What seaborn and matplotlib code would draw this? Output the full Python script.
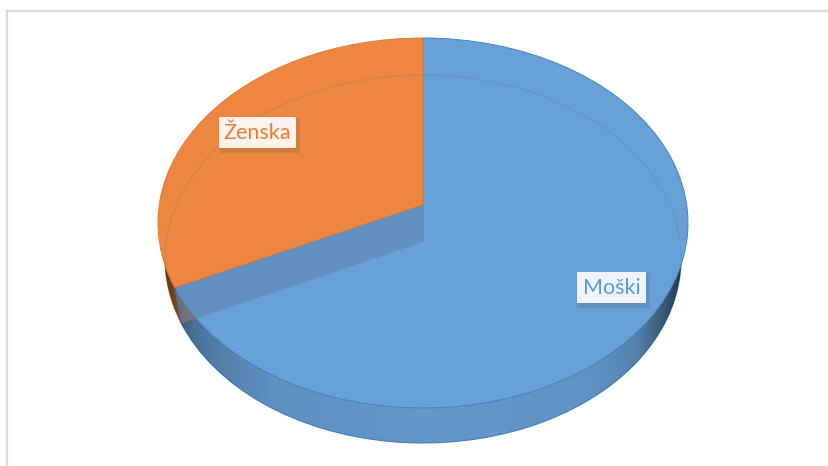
import numpy as np
import matplotlib
matplotlib.use("Agg")
import matplotlib.pyplot as plt
from matplotlib.patches import Arc, Polygon, Rectangle
import seaborn as sns

sns.set_theme(style="white")
plt.rcParams["font.family"] = ["Lato", "DejaVu Sans"]

# Shares of respondents by gender
categories = ["Moški", "Ženska"]
shares = [69.3, 30.7]

face_colors = sns.color_palette(["#68A1D8", "#EC8641"])
edge_colors = sns.color_palette(["#4483C2", "#DE7C3A"])
rim_colors = sns.color_palette(["#659BCE", "#D97B38"])
label_text_colors = sns.color_palette(["#5B9BD5", "#ED7D31"])
label_fill_colors = sns.color_palette(["#EFF4FB", "#FDF2EC"])

# Pixel layout of the tilted disc
TOP = dict(cx=423, cy=223, rx=265, ry=185, apex=205)
BOTTOM = dict(cx=423, cy=259, rx=258, ry=184, apex=242)
LABEL_BOXES = {"Moški": (577, 272, 69, 31), "Ženska": (219, 117, 77, 31)}

fig = plt.figure(figsize=(8.29, 4.66), dpi=100, facecolor="white")
ax = fig.add_axes([0, 0, 1, 1])


def tilted_pie(geom, colors, edges, lw, z):
    """Draw the pie and squash its wedges onto an ellipse with an offset apex."""
    wedges, _ = ax.pie(
        shares, colors=colors, startangle=90, counterclock=False,
        wedgeprops=dict(linewidth=lw, edgecolor="none"),
    )
    for wedge, edge in zip(wedges, edges):
        verts = wedge.get_path().vertices
        at_apex = np.hypot(verts[:, 0], verts[:, 1]) < 1e-9
        x = geom["cx"] + geom["rx"] * verts[:, 0]
        y = geom["cy"] - geom["ry"] * verts[:, 1]
        y[at_apex] = geom["apex"]
        verts[:, 0] = x
        verts[:, 1] = y
        wedge.set_edgecolor(edge)
        wedge.set_zorder(z)
    return wedges


def rim_point(geom):
    """Point on the ellipse where the two slices meet on the lower left."""
    theta = np.deg2rad(shares[1] / sum(shares) * 360)
    return (geom["cx"] - geom["rx"] * np.sin(theta),
            geom["cy"] - geom["ry"] * np.cos(theta))


# Side wall: the lower disc, shaded towards both ends
bottom_wedges = tilted_pie(BOTTOM, rim_colors, edge_colors, 0.8, 1)
shade_x = np.arange(150, 700)
shade_alpha = np.interp(
    shade_x,
    [158, 175, 195, 225, 270, 423, 590, 635, 662, 688],
    [0.65, 0.45, 0.27, 0.16, 0.07, 0.02, 0.05, 0.16, 0.42, 0.72],
)
shade = np.zeros((1, shade_x.size, 4))
shade[..., 3] = shade_alpha
for wedge in bottom_wedges:
    im = ax.imshow(shade, extent=(150, 700, 460, 30), aspect="auto",
                   zorder=2, interpolation="bilinear")
    im.set_clip_path(wedge)

# Top face
top_wedges = tilted_pie(TOP, face_colors, edge_colors, 0.7, 3)
top_wedges[1].set_zorder(3.1)

# Cut face of the larger slice, seen through the surface
top_rim = rim_point(TOP)
bottom_rim = rim_point(BOTTOM)
ax.add_patch(Polygon(
    [(TOP["cx"], TOP["apex"]), (BOTTOM["cx"], BOTTOM["apex"]), bottom_rim, top_rim],
    closed=True, facecolor="#5F88B4", edgecolor="none", alpha=0.62, zorder=3.2,
))
ax.plot([TOP["cx"], BOTTOM["cx"]], [TOP["apex"], BOTTOM["apex"]],
        color="#5F93C9", lw=0.6, zorder=3.3)
ax.plot([top_rim[0], bottom_rim[0]], [top_rim[1], bottom_rim[1]],
        color="#3F6E9E", lw=0.8, zorder=3.3)

# Faint far edge of the lower disc showing through the top face
ax.add_patch(Arc((BOTTOM["cx"], BOTTOM["cy"]), 2 * BOTTOM["rx"], 2 * BOTTOM["ry"],
                 theta1=175, theta2=365, color="#1F3B5C", alpha=0.09, lw=0.9, zorder=3.4))

# Data labels with a soft drop shadow
for name, text_color, fill in zip(categories, label_text_colors, label_fill_colors):
    x, y, w, h = LABEL_BOXES[name]
    for spread in (6, 4.5, 3, 1.5):
        ax.add_patch(Rectangle((x + 2 - spread / 2, y + 3 - spread / 2),
                               w + spread, h + spread, facecolor="#3A3A3A",
                               edgecolor="none", alpha=0.04, zorder=5))
    ax.add_patch(Rectangle((x, y), w, h, facecolor=fill, edgecolor="none", zorder=6))
    ax.text(x + w / 2, y + h / 2 + 0.5, name, color=text_color, fontsize=15.5,
            ha="center", va="center", zorder=7)

# Chart-area border along the top and left
ax.plot([7, 7], [466, 11], color="#D9D9D9", lw=1.6, zorder=8, solid_capstyle="projecting")
ax.plot([7, 829], [11, 11], color="#D9D9D9", lw=1.6, zorder=8, solid_capstyle="projecting")

ax.set_aspect("auto")
ax.set_xlim(0, 829)
ax.set_ylim(466, 0)
ax.axis("off")

fig.savefig("out.png", dpi=100, facecolor="white")
